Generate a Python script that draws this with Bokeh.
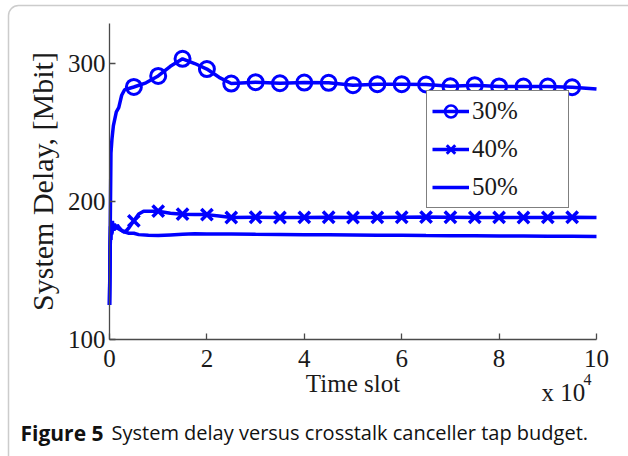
from bokeh.plotting import figure
from bokeh.models import Legend, LegendItem, Label, BoxAnnotation, FixedTicker, Range1d
from bokeh.embed import file_html
from bokeh.resources import INLINE

# ---- data -------------------------------------------------------------
series_labels = ["30%", "40%", "50%"]
x_ticks = [0, 20000, 40000, 60000, 80000, 100000]
x_tick_labels = ["0", "2", "4", "6", "8", "10"]
y_ticks = [100, 200, 300]
marker_step = 5000

time_30 = [0, 300, 500, 800, 1400, 1900, 2500, 3100, 5000, 7500, 10000,
           12500, 15000, 17500, 20000, 22500, 25000, 30000, 35000, 40000,
           45000, 50000, 55000, 60000, 65000, 70000, 75000, 80000, 85000,
           90000, 95000, 100000]
delay_30 = [125, 235, 245, 255, 265, 268, 277, 281, 283, 286, 291,
            298, 303.4, 300, 296, 290, 285.5, 286.5, 285.7, 286.2,
            286, 284.3, 285, 285, 284.8, 283.5, 284.3, 283.4, 283.3,
            283.3, 282.8, 281.5]

time_40 = [0, 150, 300, 450, 600, 800, 1000, 1300, 1600, 2000, 2500, 3000,
           3500, 4000, 5000, 6000, 7000, 8000, 10000, 12500, 15000, 17500,
           20000, 22500, 25000, 30000, 35000, 40000, 45000, 50000, 55000,
           60000, 65000, 70000, 75000, 80000, 85000, 90000, 95000, 100000]
delay_40 = [125, 168, 183, 176, 186, 179, 184, 180, 183, 181, 179, 178,
            179, 181, 186, 191, 193, 193, 193, 191.5, 190.8, 190.6,
            190.5, 189.5, 188.4, 188.6, 188.4, 188.5, 188.6, 188.4, 188.5,
            188.6, 188.7, 188.6, 188.5, 188.5, 188.4, 188.5, 188.6, 188.5]

time_50 = [0, 100, 200, 300, 400, 500, 700, 900, 1200, 1500, 2000, 2500,
           3000, 4000, 5000, 6000, 8000, 10000, 12500, 15000, 17500, 20000,
           25000, 30000, 35000, 40000, 45000, 50000, 55000, 60000, 65000,
           70000, 75000, 80000, 85000, 90000, 95000, 100000]
delay_50 = [125, 160, 182, 172, 185, 177, 183, 179, 182, 181, 180, 179,
            178, 177, 177, 176, 175.5, 175.3, 175.8, 176.3, 176.6, 176.5,
            176.4, 176.2, 176.1, 176, 175.9, 175.8, 175.6, 175.5, 175.3,
            175.2, 175.1, 175, 175, 174.9, 174.8, 174.7]


def marker_points(times, delays):
    """Every 5000th time slot (excluding the ends) carries a marker."""
    pts = [(t, d) for t, d in zip(times, delays)
           if 0 < t < 100000 and t % marker_step == 0]
    return [t for t, _ in pts], [d for _, d in pts]


# ---- page geometry ------------------------------------------------------
W, H = 628, 456
AX_LEFT, AX_RIGHT, AX_TOP, AX_BOTTOM = 109, 596, 23, 339   # axes box, px
X_MIN, X_MAX, Y_MIN, Y_MAX = 0, 100000, 100, 329

# the frame covers the whole page; ranges are widened so that the
# axes box lands at the pixel rectangle above
SX = (X_MAX - X_MIN) / (AX_RIGHT - AX_LEFT)
SY = (Y_MAX - Y_MIN) / (AX_BOTTOM - AX_TOP)
x_start, x_end = X_MIN - AX_LEFT * SX, X_MIN + (W - AX_LEFT) * SX
y_start, y_end = Y_MIN - (H - AX_BOTTOM) * SY, Y_MAX + AX_TOP * SY


def px_x(px):
    return x_start + px * SX


def px_y(py):
    return y_end - py * SY


BLUE = "#0000ff"
AXIS_GREY = "#4a4a4a"
TEXT = "#1a1a1a"
SERIF = "Liberation Serif"
SANS = "Open Sans"

p = figure(width=W, height=H, min_border=0,
           x_range=Range1d(x_start, x_end), y_range=Range1d(y_start, y_end),
           output_backend="svg", toolbar_location=None,
           background_fill_color="white", border_fill_color="white",
           outline_line_color=None)
p.title.visible = False
p.grid.visible = False

# ---- series ------------------------------------------------------------
r30 = p.line(time_30, delay_30, line_color=BLUE, line_width=3.5)
mx30, my30 = marker_points(time_30, delay_30)
p.scatter(mx30, my30, marker="circle", size=15, fill_color=None,
          line_color=BLUE, line_width=3)

r40 = p.line(time_40, delay_40, line_color=BLUE, line_width=3.5)
mx40, my40 = marker_points(time_40, delay_40)
p.scatter(mx40, my40, marker="x", size=16, line_color=BLUE, line_width=3.5)

r50 = p.line(time_50, delay_50, line_color=BLUE, line_width=3.5)

# smaller copies of the markers, used only for the legend swatches
lg30 = p.scatter(mx30, my30, marker="circle", size=10, fill_color=None,
                 line_color=BLUE, line_width=2.5, visible=False)
lg40 = p.scatter(mx40, my40, marker="x", size=10, line_color=BLUE,
                 line_width=3, visible=False)

legend = Legend(
    items=[LegendItem(label=series_labels[0], renderers=[r30, lg30]),
           LegendItem(label=series_labels[1], renderers=[r40, lg40]),
           LegendItem(label=series_labels[2], renderers=[r50])],
    location=(426, H - 208), orientation="vertical",
    glyph_width=37, glyph_height=30, label_height=30, label_width=91,
    spacing=8, padding=5, label_standoff=3, margin=0,
    label_text_font=SERIF, label_text_font_size="25px",
    label_text_color=TEXT, inactive_fill_alpha=0,
    border_line_color="black", border_line_width=1,
    background_fill_color="white", background_fill_alpha=1.0)
p.add_layout(legend)

# ---- axes (pinned to the data box) -------------------------------------
xa, ya = p.xaxis[0], p.yaxis[0]
xa.fixed_location = Y_MIN
xa.bounds = (X_MIN, X_MAX)
ya.fixed_location = X_MIN
ya.bounds = (Y_MIN, Y_MAX)
xa.ticker = FixedTicker(ticks=x_ticks)
xa.major_label_overrides = {t: s for t, s in zip(x_ticks, x_tick_labels)}
ya.ticker = FixedTicker(ticks=y_ticks)
for ax in (xa, ya):
    ax.major_tick_in = 6
    ax.major_tick_out = 0
    ax.minor_tick_line_color = None
    ax.axis_line_color = AXIS_GREY
    ax.axis_line_width = 1.3
    ax.major_tick_line_color = AXIS_GREY
    ax.major_tick_line_width = 1.3
    ax.major_label_text_font = SERIF
    ax.major_label_text_font_size = "25px"
    ax.major_label_text_color = TEXT
    ax.axis_label_text_font = SERIF
    ax.axis_label_text_font_style = "normal"
    ax.axis_label_text_color = TEXT

xa.axis_label = "Time slot"
xa.axis_label_text_font_size = "25px"
xa.major_label_standoff = 10
xa.axis_label_standoff = 0
ya.axis_label = "System Delay, [Mbit]"
ya.axis_label_text_font_size = "30px"
ya.major_label_standoff = 4
ya.axis_label_standoff = 6

# axis multiplier "x 10^4"
p.add_layout(Label(x=px_x(541), y=px_y(392),
                   text="x 10", text_font=SERIF, text_font_size="25px",
                   text_color=TEXT, text_baseline="middle"))
p.add_layout(Label(x=px_x(583), y=px_y(379),
                   text="4", text_font=SERIF, text_font_size="16px",
                   text_color=TEXT, text_baseline="middle"))

# ---- caption and panel border --------------------------------------------
p.add_layout(Label(x=px_x(20), y=px_y(432),
                   text="Figure 5", text_font=SANS, text_font_size="21px",
                   text_font_style="bold", text_color="#111111",
                   text_baseline="middle"))
p.add_layout(Label(x=px_x(111), y=px_y(432),
                   text="System delay versus crosstalk canceller tap budget.",
                   text_font=SANS, text_font_size="20px",
                   text_color="#111111", text_baseline="middle"))
p.add_layout(BoxAnnotation(left=px_x(8), right=px_x(W + 40),
                           top=px_y(5), bottom=px_y(H + 40),
                           fill_alpha=0, line_color="#555555",
                           line_width=1.5, border_radius=10))

open("out.html", "w").write(file_html(p, INLINE))
